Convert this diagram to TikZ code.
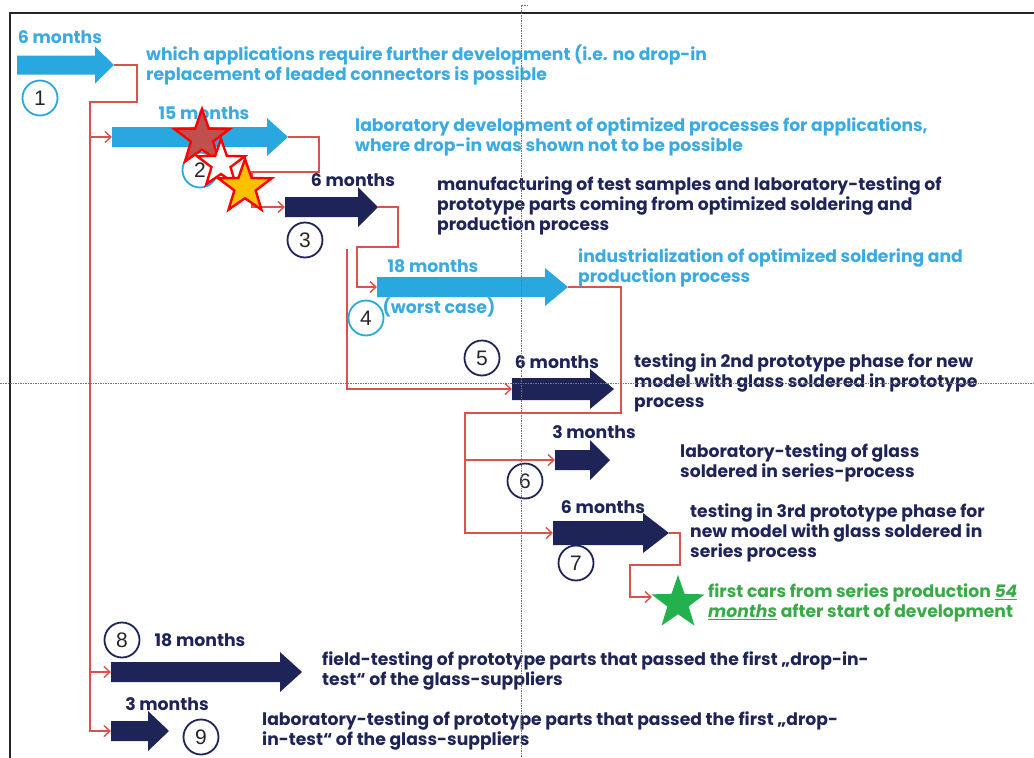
\documentclass[tikz,border=0pt]{standalone}
\usepackage{fontspec}
\setmainfont{Poppins}
\newfontfamily\digitfont{Liberation Sans}
\usetikzlibrary{arrows.meta,shapes.geometric}
\definecolor{lblue}{HTML}{29A8E0}
\definecolor{tblue}{HTML}{3AAAE2}
\definecolor{navy}{HTML}{1F2458}
\definecolor{lred}{HTML}{DB524C}
\definecolor{gstarc}{HTML}{22B14C}
\definecolor{gtext}{HTML}{3AAA48}
\definecolor{starred}{HTML}{C0504D}
\definecolor{stargold}{HTML}{FFC000}
\newcommand\bodyfont{\fontsize{17.2}{20}\selectfont\bfseries}
\newcommand\durfont{\fontsize{17.3}{18}\selectfont\bfseries}
% name, x left, x head start, x tip, y centre, half body, half head, colour
\newcommand\blockarrow[8]{%
  \fill[#8] (#2,#5-#6) -- (#3,#5-#6) -- (#3,#5-#7) -- (#4,#5) -- (#3,#5+#7) -- (#3,#5+#6) -- (#2,#5+#6) -- cycle;
  \coordinate (#1tail) at (#2,#5);
  \coordinate (#1tip) at (#4,#5);}
\begin{document}
\begin{tikzpicture}[x=1pt,y=-1pt,
  num/.style={circle, draw=#1, line width=1.8pt, minimum size=35pt, inner sep=0pt, font=\digitfont\fontsize{21}{21}\selectfont, text=black!85},
  dur/.style={font=\durfont, text=#1, inner sep=0pt},
  desc/.style={font=\bodyfont, text=#1, align=left, anchor=north west, inner sep=0pt},
  link/.style={draw=lred, line width=1.4pt},
  linkarr/.style={link, -{Straight Barb[length=6pt,width=11pt]}},
  mystar/.style={star, star points=5, star point ratio=2.5, minimum size=#1, inner sep=0pt},
  guide/.style={draw=black!55, line width=0.7pt, dash pattern=on 1.5pt off 1pt}]
\useasboundingbox (0,0) rectangle (1034,758);
\fill[white] (0,0) rectangle (1034,758);
% frame
\draw[line width=2pt, black!85] (1034,13) -- (10,13) -- (10,758);

% arrows
\blockarrow{a1}{17}{95}{114}{65}{9.5}{18.5}{lblue}
\blockarrow{a2}{112}{267}{288}{137}{10}{19}{lblue}
\blockarrow{a3}{285}{358}{378}{207}{10}{20}{navy}
\blockarrow{a4}{377}{545}{568}{287}{10}{19}{lblue}
\blockarrow{a5}{512}{590}{614}{389}{11}{20}{navy}
\blockarrow{a6}{555}{590}{610}{460}{10}{20}{navy}
\blockarrow{a7}{553}{643}{669}{533}{12}{20}{navy}
\blockarrow{a8}{111}{280}{302}{672}{10}{20}{navy}
\blockarrow{a9}{111}{148}{169}{731}{10}{20}{navy}

% connectors
\draw[linkarr] (a1tip) -- (137,65) |- (90,102) |- (a2tail);
\draw[linkarr] (90,102) |- (a8tail);
\draw[linkarr] (90,102) |- (a9tail);
\draw[linkarr] (a2tip) -- (319,137) |- (252,172) |- (a3tail);
\draw[linkarr] (a3tip) -- (398,207) |- (357,247) |- (a4tail);
\draw[linkarr] (347,249) |- (a5tail);
\draw[linkarr] (a4tip) -- (621,287) |- (465,413) |- (a6tail);
\draw[linkarr] (465,413) |- (a7tail);
\coordinate (gin) at (652,597);
\draw[linkarr] (a7tip) -- (680,533) |- (630,565) |- (gin);

% durations
\node[dur=tblue] (d1) at (60,37) {6 months};
\node[dur=tblue] (d2) at (204,113) {15 months};
\node[dur=navy] (d3) at (353,180) {6 months};
\node[dur=tblue] (d4) at (433,266) {18 months};
\node[dur=tblue] (d4b) at (439,307) {(worst case)};
\node[dur=navy] (d5) at (557,362) {6 months};
\node[dur=navy] (d6) at (594,432) {3 months};
\node[dur=navy] (d7) at (603,507) {6 months};
\node[dur=navy] (d8) at (200,640) {18 months};
\node[dur=navy] (d9) at (167,704) {3 months};

% number circles
\node[num=lblue] (n1) at (40,98) {1};
\node[num=lblue] (n2) at (200,170) {2};
\node[num=navy] (n3) at (305,240) {3};
\node[num=lblue] (n4) at (366,318) {4};
\node[num=navy] (n5) at (482,358) {5};
\node[num=navy] (n6) at (525,481) {6};
\node[num=navy] (n7) at (576,563) {7};
\node[num=navy] (n8) at (122,640) {8};
\node[num=navy] (n9) at (201,737) {9};

% stars
\node[mystar=58pt, fill=starred, draw=red, line width=2.4pt] (s1) at (202,138) {};
\node[mystar=50pt, fill=white, draw=red, line width=2.4pt] (s2) at (221,164) {};
\node[mystar=56pt, fill=stargold, draw=red, line width=2.4pt] (s3) at (245,187) {};
\node[mystar=56pt, fill=gstarc] (gstar) at (678,603) {};

% descriptions
\node[desc=tblue] (t1) at (146,45) {which applications require further development (i.e. no drop-in\\replacement of leaded connectors is possible};
\node[desc=tblue] (t2) at (355,118) {laboratory development of optimized processes for applications,\\where drop-in was shown not to be possible};
\node[desc=navy] (t3) at (437,177) {manufacturing of test samples and laboratory-testing of\\prototype parts coming from optimized soldering and\\production process};
\node[desc=tblue] (t4) at (578,249) {industrialization of optimized soldering and\\production process};
\node[desc=navy] (t5) at (634,354) {testing in 2nd prototype phase for new\\model with glass soldered in prototype\\process};
\node[desc=navy] (t6) at (680,444) {laboratory-testing of glass\\soldered in series-process};
\node[desc=navy] (t7) at (690,504) {testing in 3rd prototype phase for\\new model with glass soldered in\\series process};
\node[desc=gtext] (t10) at (708,584) {first cars from series production \underline{\textit{54}}\\\underline{\textit{months}} after start of development};
\node[desc=navy] (t8) at (322,652) {field-testing of prototype parts that passed the first „drop-in-\\test“ of the glass-suppliers};
\node[desc=navy] (t9) at (262,712) {laboratory-testing of prototype parts that passed the first „drop-\\in-test“ of the glass-suppliers};

% guide lines
\draw[guide] (521.5,5) -- (521.5,758);
\draw[guide] (521.5,5) -- (528,5);
\draw[guide] (0,383) -- (1034,383);
\end{tikzpicture}
\end{document}
